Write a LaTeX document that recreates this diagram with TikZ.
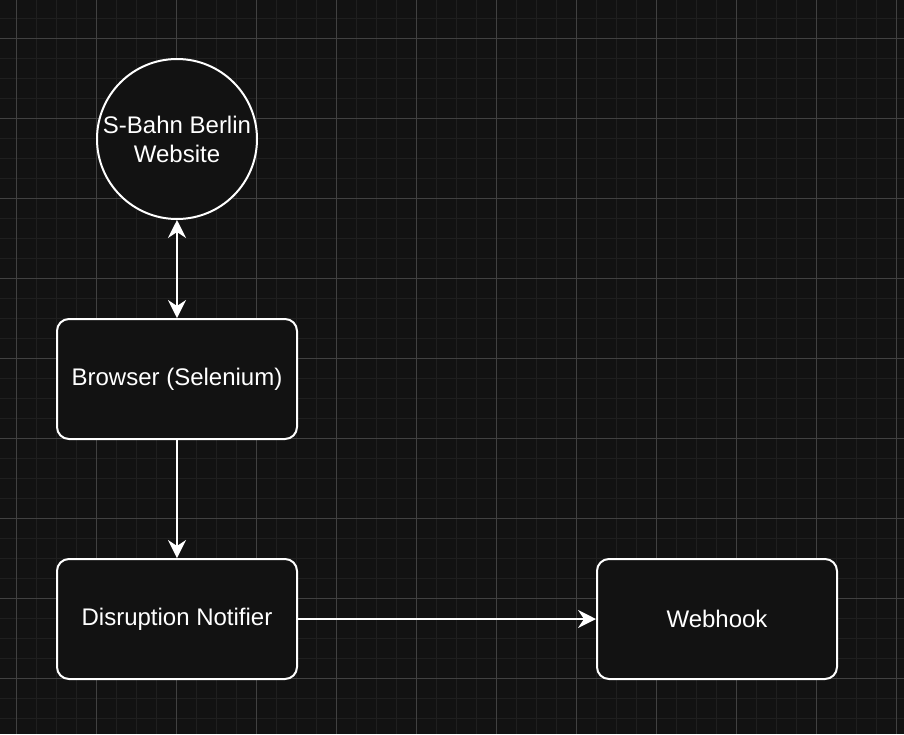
\documentclass[tikz,border=0pt]{standalone}
\usepackage{fontspec}
\setmainfont{Liberation Sans}
\usetikzlibrary{arrows.meta}

\definecolor{canvasbg}{HTML}{121212}
\definecolor{gridminor}{HTML}{1F1F1F}
\definecolor{gridmajor}{HTML}{414141}

\tikzset{
  minorline/.style={draw=gridminor, line width=0.5pt},
  majorline/.style={draw=gridmajor, line width=0.5pt},
  procbox/.style={draw=white, fill=canvasbg, rounded corners=6pt, line width=1pt,
    minimum width=120pt, minimum height=60pt, text=white, inner sep=0pt,
    font={\fontsize{12}{14}\selectfont}},
  sitecircle/.style={draw=white, fill=canvasbg, circle, line width=1pt,
    minimum size=80pt, text=white, inner sep=0pt, align=center,
    font={\fontsize{12}{14.5}\selectfont}},
  flowtip/.tip={Stealth[length=9pt,width=9pt,inset=3pt]},
  flow/.style={draw=white, line width=1pt, -flowtip},
  twoway/.style={draw=white, line width=1pt, flowtip-flowtip}
}

\begin{document}
\begin{tikzpicture}[x=0.5pt, y=-0.5pt]

\fill[canvasbg] (0,0) rectangle (904,734);
\useasboundingbox (0,0) rectangle (904,734);

% grid
\foreach \gx in {16,36,...,896} \draw[minorline] (\gx,0) -- (\gx,734);
\foreach \gy in {18,38,...,718} \draw[minorline] (0,\gy) -- (904,\gy);
\foreach \gx in {16,96,...,896} \draw[majorline] (\gx,0) -- (\gx,734);
\foreach \gy in {38,118,...,678} \draw[majorline] (0,\gy) -- (904,\gy);


\node [sitecircle] (website) at (177,139) {S-Bahn Berlin\\Website};

\node [procbox] (browser) at (177,379) {Browser (Selenium)};

\node [procbox] (notifier) at (177,619) {Disruption Notifier};

\node [procbox] (webhook) at (717,619) {Webhook};


\draw [twoway] (website) -- (browser);
\draw [flow] (browser) -- (notifier);
\draw [flow] (notifier) -- (webhook);

\end{tikzpicture}
\end{document}
